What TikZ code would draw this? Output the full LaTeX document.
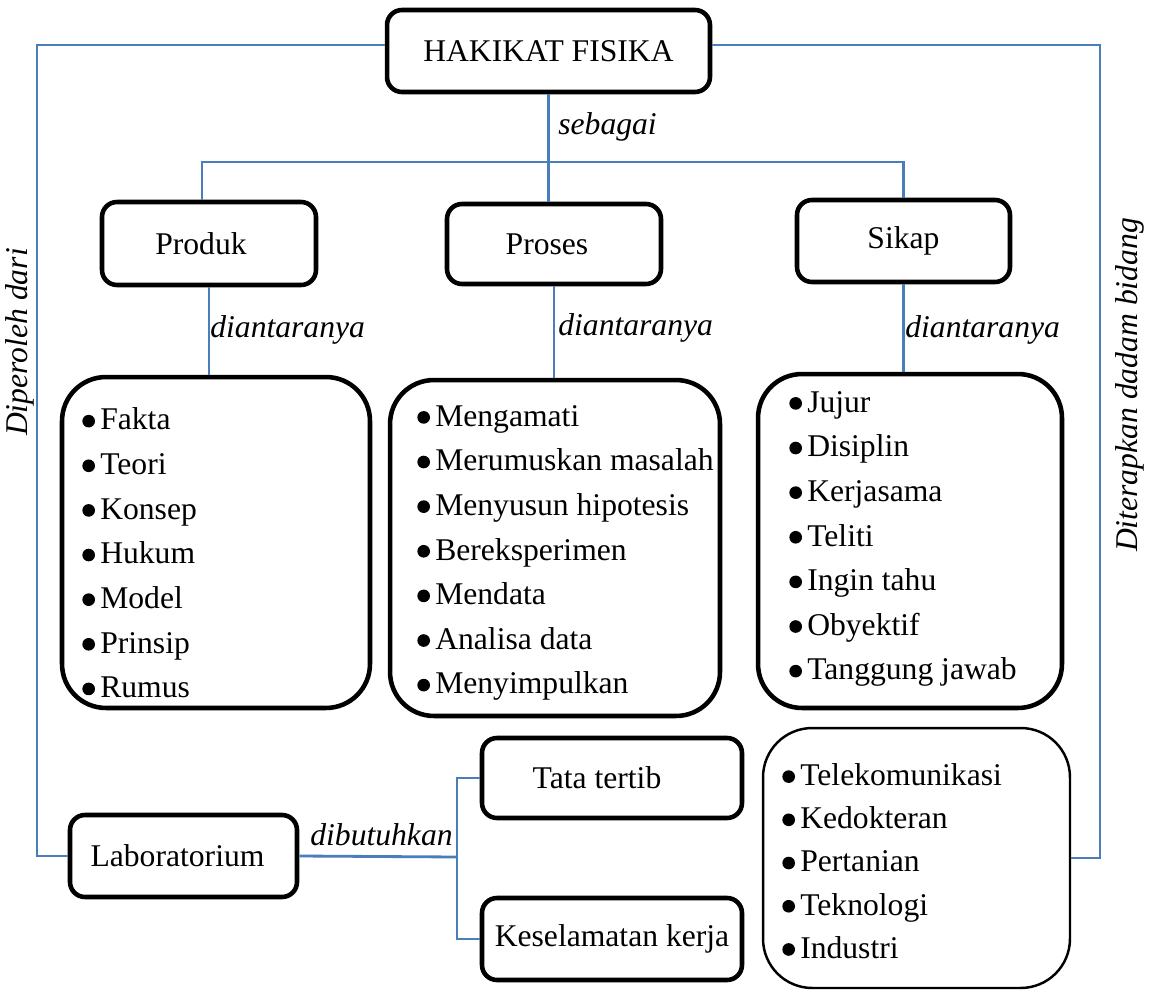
\documentclass[tikz,border=0pt]{standalone}
\usepackage{fontspec}
\setmainfont{Liberation Serif}
\usepackage{xcolor}
\usepackage{tikz}
\usetikzlibrary{calc}

\definecolor{linkblue}{RGB}{74,126,187}
\newcommand{\listdot}{\tikz[baseline=0pt]\fill (3.6pt,5pt) circle (3.6pt);\hspace{3pt}}

\begin{document}
\begin{tikzpicture}[x=0.02cm, y=-0.02cm, color=black,
		font=\fontsize{18}{25.4}\selectfont,
		box/.style={draw, line width=2.6pt, rounded corners=8.5pt, inner sep=0pt},
		listbox/.style={draw, line width=2.6pt, rounded corners=25pt, inner sep=0pt},
		link/.style={draw=linkblue, line width=1.6pt},
		items/.style={align=left, anchor=west, inner sep=0pt},
		rel/.style={font=\fontsize{18}{22}\selectfont\itshape, inner sep=0pt}]
		\useasboundingbox (0,0) rectangle (1150,990);
		
		% top level
		\node[box, minimum width=6.46cm, minimum height=1.64cm] (hakikat) at (548.5,51) {HAKIKAT FISIKA};
		
		\node[box, minimum width=4.28cm, minimum height=1.66cm] (produk) at (209,243.5) {\hspace*{-0.32cm}Produk};
		\node[box, minimum width=4.28cm, minimum height=1.6cm] (proses) at (554,244) {\hspace*{-0.28cm}Proses};
		\node[box, minimum width=4.26cm, minimum height=1.64cm] (sikap) at (903.5,241) {Sikap};
		
		% lists
		\node[listbox, minimum width=6.16cm, minimum height=6.62cm] (produkList) at (216,542.5) {};
		\node[listbox, minimum width=6.6cm, minimum height=6.72cm] (prosesList) at (555,548) {};
		\node[listbox, minimum width=6.08cm, minimum height=6.68cm] (sikapList) at (910,541) {};
		\node[listbox, line width=1.4pt, rounded corners=28pt, minimum width=6.14cm, minimum height=5.2cm] (bidangList) at (916.5,858) {};
		
		\node[items] (produkItems) at (82,553) {\listdot Fakta\\\listdot Teori\\\listdot Konsep\\\listdot Hukum\\\listdot Model\\\listdot Prinsip\\\listdot Rumus};
		\node[items] (prosesItems) at (417,553) {\listdot Mengamati\\\listdot Merumuskan masalah\\\listdot Menyusun hipotesis\\\listdot Bereksperimen\\\listdot Mendata\\\listdot Analisa data\\\listdot Menyimpulkan};
		\node[items] (sikapItems) at (789,539) {\listdot Jujur\\\listdot Disiplin\\\listdot Kerjasama\\\listdot Teliti\\\listdot Ingin tahu\\\listdot Obyektif\\\listdot Tanggung jawab};
		\node[items, font=\fontsize{18}{24.6}\selectfont] (bidangItems) at (782,861) {\listdot Telekomunikasi\\\listdot Kedokteran\\\listdot Pertanian\\\listdot Teknologi\\\listdot Industri};
		
		% laboratorium
		\node[box, minimum width=4.54cm, minimum height=1.64cm] (lab) at (183.5,856) {\hspace*{-0.24cm}Laboratorium};
		\node[box, minimum width=5.2cm, minimum height=1.6cm] (tata) at (612,778) {\hspace*{-0.6cm}Tata tertib};
		\node[box, minimum width=5.2cm, minimum height=1.64cm] (kesel) at (612,939) {Keselamatan kerja};
		
		% connectors
		\coordinate (sebagaiSplit) at (547,162);
		\coordinate (labSplit) at (457,857);
		\coordinate (diperolehBend) at (37,856);
		\coordinate (bidangBend) at (1100,858);
		
		\draw[link] (hakikat.south) -- (hakikat.south |- proses.north);
		\draw[link] ([xshift=-0.14cm]produk.north) |- (sebagaiSplit) -| (sikap.north);
		\draw[link] (produk.south) -- (produk.south |- produkList.north);
		\draw[link] (proses.south) -- (proses.south |- prosesList.north);
		\draw[link] (sikap.south) -- (sikap.south |- sikapList.north);
		\draw[link] ([yshift=0.12cm]hakikat.west) -| (diperolehBend) -- (lab.west);
		\draw[link] ([yshift=0.12cm]hakikat.east) -| (bidangBend) -- (bidangList.east);
		\draw[link] (lab.east) -- (labSplit);
		\draw[link] (tata.west) -| (labSplit) |- (kesel.west);
		
		% labels
		\begin{scope}[rel]
			\node[anchor=west] (sebagaiLabel) at (558,127) {sebagai};
			\node[anchor=west] (produkLabel) at (210,330) {diantaranya};
			\node[anchor=west] (prosesLabel) at (558,328) {diantaranya};
			\node[anchor=west] (sikapLabel) at (905,330) {diantaranya};
			\node[anchor=west] (dibutuhkanLabel) at (310,835) {dibutuhkan};
			\node[rotate=90] (diperolehLabel) at (20,342) {Diperoleh dari};
			\node[rotate=90] (diterapkanLabel) at (1130,385) {Diterapkan dadam bidang};
		\end{scope}
	\end{tikzpicture}
\end{document}
